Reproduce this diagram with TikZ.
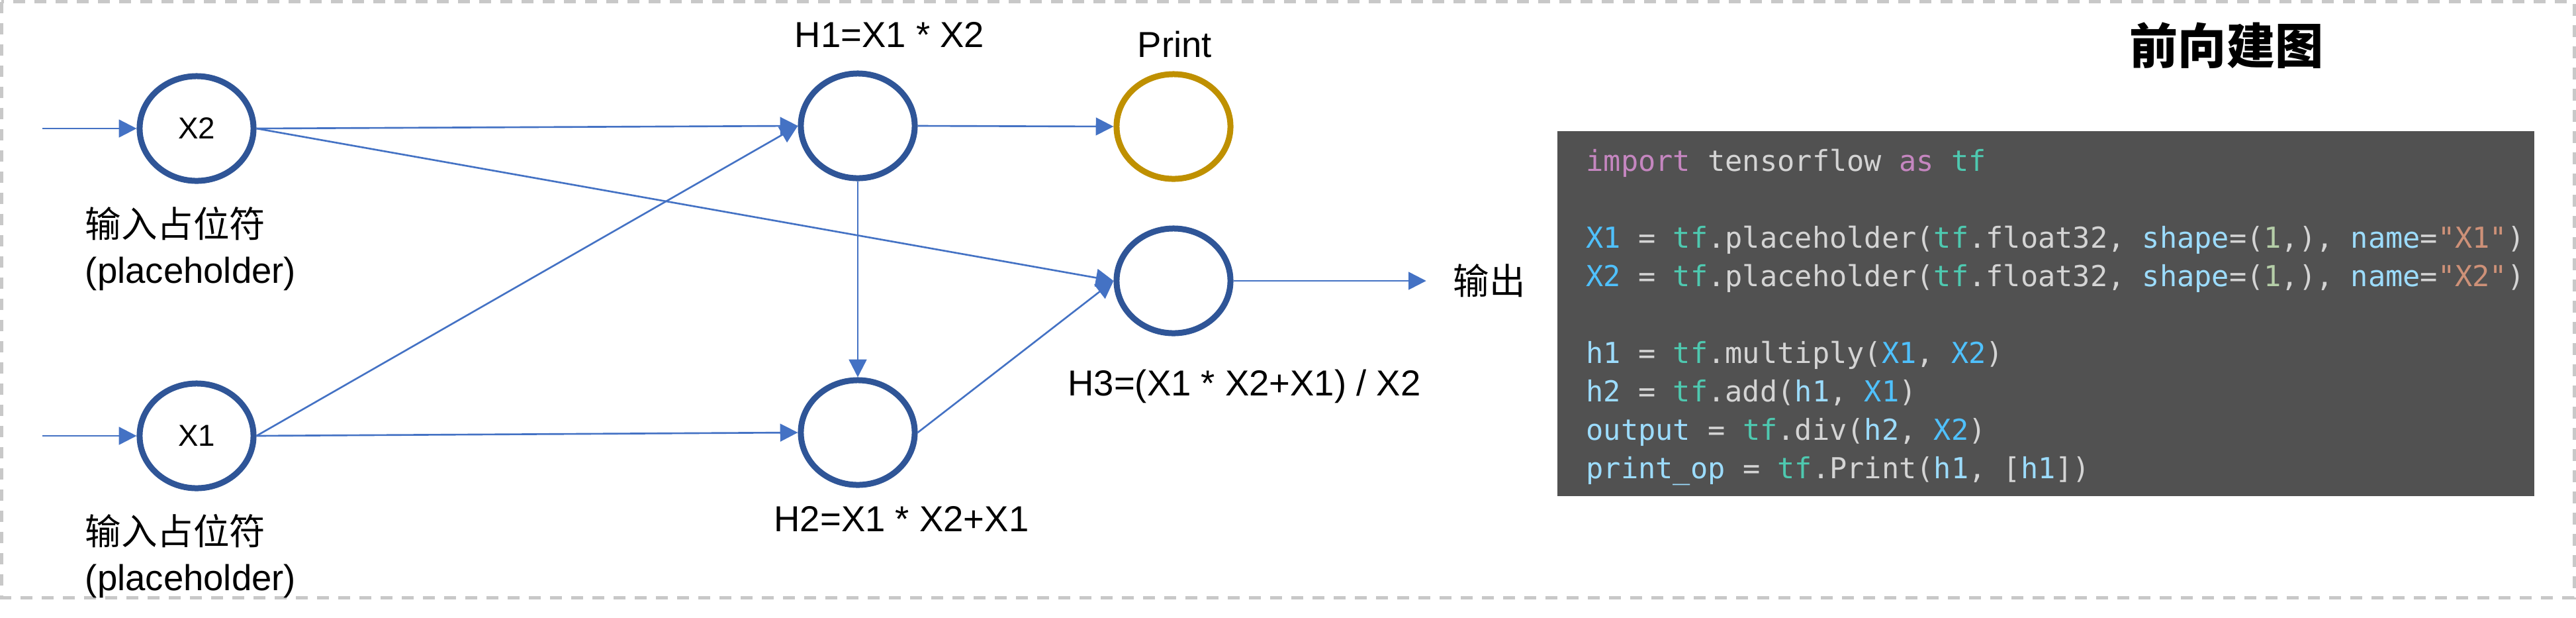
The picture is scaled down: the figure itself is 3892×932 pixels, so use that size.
\documentclass[tikz,border=0pt]{standalone}
\usepackage{fontspec}
\setmainfont{Liberation Sans}
\newfontfamily\cjk{Noto Sans CJK SC}
\newfontfamily\codefont{DejaVu Sans Mono}[Ligatures=TeXOff]
\usetikzlibrary{arrows.meta,positioning,shapes.geometric}
\definecolor{nodeBlue}{HTML}{2F5597}
\definecolor{printGold}{HTML}{BF9000}
\definecolor{edgeBlue}{HTML}{4472C4}
\definecolor{frameGray}{HTML}{C8C8C8}
\definecolor{codeBg}{HTML}{515151}
\definecolor{codeKw}{HTML}{C586C0}
\definecolor{codeMod}{HTML}{4EC9B0}
\definecolor{codeVar}{HTML}{4FC1FF}
\definecolor{codeProp}{HTML}{9CDCFE}
\definecolor{codeNum}{HTML}{B5CEA8}
\definecolor{codeStr}{HTML}{CE9178}
\definecolor{codeTxt}{HTML}{D4D4D4}

\begin{document}
\begin{tikzpicture}[x=0.01cm,y=-0.01cm,
    opnode/.style={ellipse,draw=nodeBlue,line width=2.56pt,
                   minimum width=1.72cm,minimum height=1.58cm,
                   inner sep=0pt,font=\fontsize{13}{15}\selectfont},
    printnode/.style={opnode,draw=printGold},
    edge/.style={draw=edgeBlue,line width=0.75pt,
                 -{Triangle[length=7.6pt,width=7.6pt]}},
    lbl/.style={inner sep=0pt,font=\fontsize{15.5}{19.5}\selectfont}]
  \useasboundingbox (0,0) rectangle (3892,932);
  \draw[frameGray,line width=1.42pt,dash pattern=on 5.1pt off 4pt]
    (2.5,2.5) rectangle (3889,902);

  % inputs
  \node[opnode] (X2) at (297,194) {X2};
  \node[opnode] (X1) at (297,658) {X1};
  \coordinate (in2) at (64,194);
  \coordinate (in1) at (64,658);
  \node[lbl,align=left,below=0.34cm of X2,xshift=-0.09cm] (ph2) {{\cjk 输入占位符}\\(placeholder)};
  \node[lbl,align=left,below=0.34cm of X1,xshift=-0.09cm] (ph1) {{\cjk 输入占位符}\\(placeholder)};

  % ops
  \node[opnode] (H1) at (1296,190) {};
  \node[opnode] (H2) at (1296,653) {};
  \node[printnode] (Print) at (1773,191) {};
  \node[opnode] (H3) at (1773,424) {};
  \node[lbl,anchor=base] (h1lbl) at (1344,71) {H1=X1 * X2};
  \node[lbl,anchor=base] (h2lbl) at (1362,802) {H2=X1 * X2+X1};
  \node[lbl,anchor=base] (h3lbl) at (1880,597) {H3=(X1 * X2+X1) / X2};
  \node[lbl,anchor=base] (prlbl) at (1775,86) {Print};
  \node[lbl] (out) at (2250,424) {\cjk 输出};

  % edges
  \draw[edge] (in2) -- (X2);
  \draw[edge] (in1) -- (X1);
  \draw[edge] (X2.east) -- (H1.west);
  \draw[edge] (X2.east) -- (H3.west);
  \draw[edge] (X1.east) -- (H1.west);
  \draw[edge] (X1.east) -- (H2.west);
  \draw[edge] (H1.east) -- (Print.west);
  \draw[edge] (H1) -- (H2);
  \draw[edge] (H2.east) -- (H3.west);
  \draw[edge,shorten >=0.40cm] (H3.east) -- (out.west);

  % code
  \node[font=\cjk\bfseries\fontsize{20.8}{24}\selectfont] (title) at (3364,69) {前向建图};
  \node[fill=codeBg,minimum width=14.76cm,minimum height=5.51cm,inner sep=0pt]
    (codebox) at (3091,473.5) {};
  \node[anchor=north west,inner sep=0pt,align=left,text=codeTxt,
        font=\codefont\fontsize{12.4}{16.5}\selectfont]
    (code) at (2396,224) {%
    \textcolor{codeKw}{import} tensorflow \textcolor{codeKw}{as} \textcolor{codeMod}{tf}\\[16.5pt]
    \textcolor{codeVar}{X1} = \textcolor{codeMod}{tf}.placeholder(\textcolor{codeMod}{tf}.float32, \textcolor{codeProp}{shape}=(\textcolor{codeNum}{1},), \textcolor{codeProp}{name}=\textcolor{codeStr}{"X1"})\\
    \textcolor{codeVar}{X2} = \textcolor{codeMod}{tf}.placeholder(\textcolor{codeMod}{tf}.float32, \textcolor{codeProp}{shape}=(\textcolor{codeNum}{1},), \textcolor{codeProp}{name}=\textcolor{codeStr}{"X2"})\\[16.5pt]
    \textcolor{codeProp}{h1} = \textcolor{codeMod}{tf}.multiply(\textcolor{codeVar}{X1}, \textcolor{codeVar}{X2})\\
    \textcolor{codeProp}{h2} = \textcolor{codeMod}{tf}.add(\textcolor{codeProp}{h1}, \textcolor{codeVar}{X1})\\
    \textcolor{codeProp}{output} = \textcolor{codeMod}{tf}.div(\textcolor{codeProp}{h2}, \textcolor{codeVar}{X2})\\
    \textcolor{codeProp}{print\_op} = \textcolor{codeMod}{tf}.Print(\textcolor{codeProp}{h1}, [\textcolor{codeProp}{h1}])};
\end{tikzpicture}
\end{document}
